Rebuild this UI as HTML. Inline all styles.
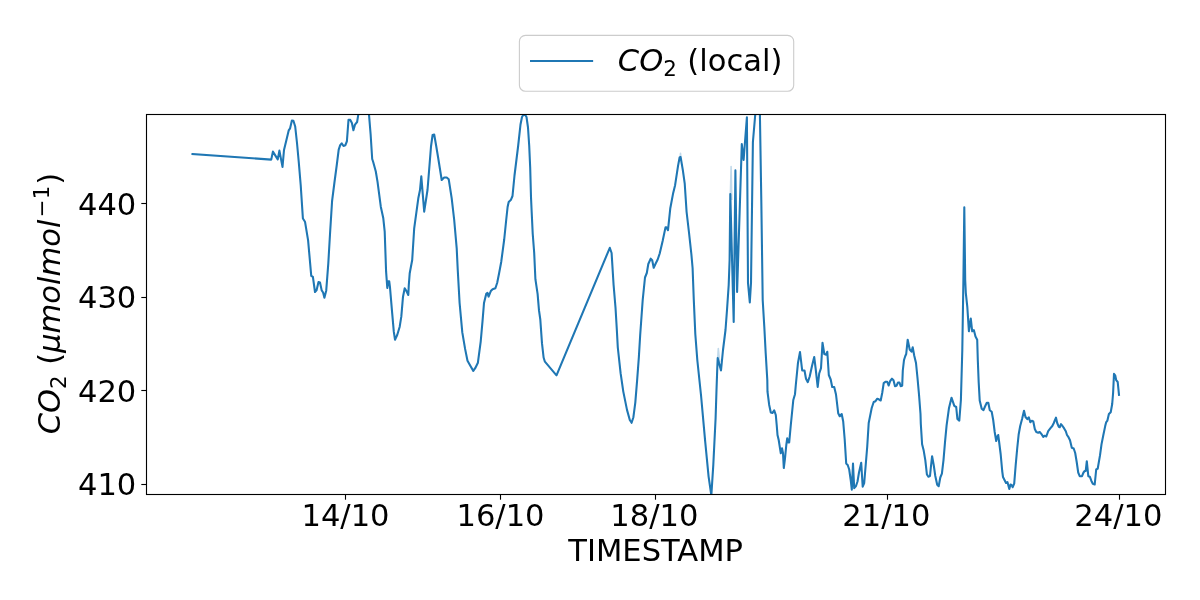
<!DOCTYPE html>
<html><head><meta charset="utf-8"><title>CO2 chart</title>
<style>
html,body{margin:0;padding:0;background:#fff;}
body{width:1200px;height:600px;overflow:hidden;}
svg{display:block;will-change:transform;}
text{font-family:"DejaVu Sans","Liberation Sans",sans-serif;font-size:30.56px;fill:#000;}
.it{font-style:italic;}
</style></head>
<body>
<svg width="1200" height="600" viewBox="0 0 1200 600">
<rect x="0" y="0" width="1200" height="600" fill="#fff"/>
<defs><clipPath id="ax"><rect x="146.5" y="114.5" width="1019.0" height="380.0"/></clipPath></defs>
<path d="M192.5 154 L271.25 159.6 L272.9 151.6 L277.75 159.4 L279.4 150.6 L282.5 166.9 L284 150 L286.3 140.5 L288.7 130.4 L290.1 128.3 L291.9 120.5 L293.4 120.8 L295.2 126.5 L297 143 L298.8 162.5 L300.7 185 L302.9 218.5 L305 221.7 L308.1 240.4 L311.25 275.8 L312.9 276.9 L315 292 L316.5 290.4 L318.5 282 L320 282.5 L321.7 290.4 L323.1 292.5 L324.4 297.7 L326.25 290.4 L328.3 263.3 L330 234.2 L332.1 200.8 L334.5 182 L336.7 165.5 L338.7 149.7 L340.2 145.2 L341.7 143.3 L343.5 146 L345.3 145.3 L346.9 141.25 L348.5 119.9 L350.3 119.9 L351.9 123 L353.4 130.3 L355 124.6 L357.1 122 L358.3 114.7 L360.8 100 L367.4 100 L369 114.7 L370.6 134 L372.2 159 L373.2 162 L375.8 171.5 L377.5 181.7 L380.8 206.7 L383.3 218.3 L384.7 231.7 L386.1 271.7 L387.3 288 L388.2 281.2 L389.2 281.2 L390 287.5 L392.2 313.3 L393.8 331.7 L395 339.7 L397.2 335 L399.7 326.7 L401.3 316.7 L403 296.7 L404.7 288.3 L406.3 290.8 L408.3 295 L408.8 285 L409.7 273.3 L412.2 260 L414.2 228.3 L418.3 198.3 L420 190 L421.3 176.3 L424.2 211.7 L427.5 190 L429 171.5 L431 146.5 L432.6 135 L434.2 134.5 L436.2 146 L438.2 158 L441.7 180 L444.2 177.5 L446.7 177.5 L448.7 179.2 L451.7 198.3 L454.2 220 L456.7 248.3 L457.75 270 L459.6 303 L462.3 332.4 L465.1 348.9 L467.5 360.8 L470.6 366.3 L473.3 370.9 L475.2 368.2 L477.9 362.7 L480.7 341.6 L482.5 321.4 L484 303 L486.2 293.9 L487.5 292.9 L488.6 296.6 L490.8 291.1 L492.6 289.3 L495.4 288.3 L497.2 282.8 L499 273.7 L501.2 262 L504.2 239.5 L506.2 220 L507.6 207 L508.7 202 L511 199.7 L512.5 196 L514.5 175.5 L518.2 145.5 L520.5 124.5 L522 117 L524.2 113.5 L526.5 117 L528 127.5 L529.2 145.5 L530.2 168 L531 197.2 L531.7 212.5 L532.7 233.5 L534.2 253 L535.4 279.2 L537.6 293.9 L539 310.4 L540.3 319.5 L542 343.4 L543.6 357.5 L544.9 361.7 L556.5 375.3 L609.8 247.8 L611.6 253 L613.6 285 L615.5 307.5 L616.8 329.2 L617.8 347.5 L620.6 373.2 L623.3 391.6 L627 409.9 L629.8 420 L631.6 422.8 L633.4 417.2 L635.3 402.6 L637.1 380.6 L638.9 356.7 L640.2 334.7 L642.7 300 L645 277.5 L646.8 273 L648.3 264 L650.7 258.7 L652.2 260.2 L653.7 267.7 L655.8 263.2 L657.7 259.5 L659.7 253.5 L662.7 240.8 L665.5 227.4 L666.5 227.4 L668 230.2 L670.3 208.2 L673.2 192.9 L675.1 185.2 L678 166.1 L679.6 157.5 L680.6 157 L682.8 169.9 L684.7 183.3 L686.6 212 L689.1 233.5 L691.4 254.5 L692.6 268 L693.8 300 L695.3 334 L697.3 360 L701 395 L705.2 441.6 L708.6 476.6 L711 493 L711.3 496 L713.3 464.9 L715.6 418.3 L716.5 390 L717.2 370 L717.7 358 L721 370.5 L723 350 L724.5 338 L725.5 330 L727 310 L728.7 285 L729.6 260 L730.3 194 L733.7 322 L735.4 170.4 L737.1 292 L741.8 144 L743.6 160 L746.9 117.3 L748 283 L749.8 302.5 L751 283 L752.9 142 L755.3 114 L756.5 100 L759.7 100 L759.9 114 L761.3 200 L762.7 300 L764.3 326.7 L765.7 353.3 L767.3 380 L767.5 391.7 L769.2 405 L770.8 412.5 L772.5 413 L774.2 410.3 L775.8 415 L776.7 425 L777.5 435 L778.7 440 L780 448.3 L780.8 453.3 L782 448.3 L783 453.3 L783.8 468 L785 458.3 L786.3 445 L787.2 438.3 L788.3 442.5 L789.2 442.5 L790.8 425 L793.3 400 L795 394.2 L795.8 385 L798 362.7 L800 352 L802.2 370.5 L804.5 370.5 L806 378.7 L807.8 382.2 L809.7 376.5 L812 366 L814.2 357 L815.7 369 L817.7 387 L819.2 373.5 L821 368.2 L822.5 342.7 L824.3 354 L826.2 354.7 L827.3 351.7 L828.8 375 L830.7 379.5 L832.2 387 L834.2 387 L836 394.5 L838.2 413.2 L839.7 416.2 L841.7 414 L843.2 421.5 L844.7 439.5 L846.2 463.5 L847.7 465 L849.2 469.5 L850.7 480 L851.8 489.7 L853 463.5 L854.2 488.2 L856 486 L857.5 481.5 L859 472.5 L861.2 462.7 L862.7 486.7 L864.2 483 L865.7 465 L867.2 447 L868.7 423 L870.5 414 L871.7 408 L873.7 402 L875.5 401.2 L877.3 398.7 L878.8 399.3 L880.7 400.5 L882.2 393 L883.7 383.2 L885.7 381.7 L887.2 381.7 L888.7 385.5 L890.2 381 L892 378.7 L893.5 380.2 L895 386.2 L896.5 385.8 L898 382.5 L899.5 382.5 L900.7 386.2 L902.2 385.8 L902.8 370.5 L904 360 L905.2 356.2 L906.2 354 L907.7 339.7 L909.7 349.5 L911.5 351.7 L912.7 347.2 L914.2 355.5 L916 363 L917.5 378 L919 394.5 L920.5 414 L920.8 423.7 L922.1 444.3 L923.7 450.6 L925.3 460.1 L926.9 474.4 L928.4 476.7 L930 476 L930.8 468 L932.1 456.2 L933.7 464.9 L935.3 476 L937.2 484.7 L938.7 486.2 L940.3 477.5 L941.9 473.6 L943.5 460.1 L945.1 441.1 L946.6 425.3 L949 407.9 L951.5 397.7 L954.3 405.9 L956.2 407 L957.4 419 L959.3 420.6 L960.9 400 L962.3 350 L963.4 280 L964.3 207.3 L965.2 280 L965.8 292.8 L967.3 306.8 L968.9 331.3 L970.8 318.5 L972.2 331.3 L973.9 330.2 L975.5 336.5 L977.2 339.7 L977.8 360 L978.7 382.5 L979.7 400.5 L981.7 408.7 L983.5 410.2 L985 406.5 L986.8 402.7 L988.3 402.7 L989.8 410.2 L991.7 411.7 L993.2 420 L994.7 432 L996.2 441 L997.3 436.5 L998.2 435 L999.2 442.5 L1000.7 454.5 L1002.2 471 L1003 477 L1004.5 480 L1006 483 L1007.5 482.2 L1009.3 489 L1010.5 484.5 L1011.7 485.2 L1012.7 487.2 L1014.2 483.7 L1015.7 465 L1017.2 448.5 L1018.7 434.2 L1020.2 426 L1022.2 418.5 L1024 410.7 L1025.5 417 L1027.3 419.2 L1028.8 417.3 L1030.3 422.2 L1031.8 420.7 L1033.3 421.5 L1034.8 429 L1036.3 432 L1038.2 432.7 L1039.7 432 L1041.5 434.2 L1043.3 436.8 L1044.8 435.7 L1046.3 436.5 L1048.2 431.2 L1050.5 428.2 L1052.3 426 L1053.8 423 L1055 420 L1056 417.7 L1057.2 423 L1058.7 426.7 L1059.8 427.2 L1061 424.2 L1062.5 426 L1064 428.2 L1065.8 431.2 L1067 435 L1068.5 437.2 L1070 440.2 L1071.8 447.7 L1073.7 448.5 L1075.2 453 L1076.7 462 L1078.2 472.5 L1079.7 476.2 L1082 476.2 L1083.5 472.5 L1084.7 471 L1085.7 471 L1086.8 461.2 L1088.3 476.2 L1089.8 476.7 L1091.3 480.7 L1092.8 483.7 L1094.7 484.5 L1096.2 469.5 L1097.7 468.7 L1100 455.4 L1101.5 444.4 L1103.3 435.2 L1105.2 426.1 L1106.1 422.4 L1107.4 420.6 L1108.9 414.1 L1110.7 412.3 L1112.2 404 L1113.1 393 L1114 373.8 L1115.3 375.6 L1116.2 380.2 L1117.7 382 L1119 394.9" fill="none" stroke="#1f77b4" stroke-width="2.08" stroke-linejoin="round" stroke-linecap="square" clip-path="url(#ax)"/>
<path d="M730.4 194 L731.1 166.5 L731.8 200 M717.7 358 L718.3 348.5 L719.6 362 M680.1 157 L680.5 153.3 L680.9 157" fill="none" stroke="#1f77b4" stroke-opacity="0.28" stroke-width="1.6" stroke-linejoin="round"/>
<rect x="146.5" y="114.5" width="1019.0" height="380.0" fill="none" stroke="#000" stroke-width="1.11" stroke-linejoin="miter"/>
<g stroke="#000" stroke-width="1.11">
<line x1="141.30" y1="203.5" x2="146.5" y2="203.5"/>
<line x1="141.30" y1="297.5" x2="146.5" y2="297.5"/>
<line x1="141.30" y1="390.5" x2="146.5" y2="390.5"/>
<line x1="141.30" y1="484.5" x2="146.5" y2="484.5"/>
<line x1="345.5" y1="494.5" x2="345.5" y2="499.70"/>
<line x1="500.5" y1="494.5" x2="500.5" y2="499.70"/>
<line x1="655.5" y1="494.5" x2="655.5" y2="499.70"/>
<line x1="887.5" y1="494.5" x2="887.5" y2="499.70"/>
<line x1="1119.5" y1="494.5" x2="1119.5" y2="499.70"/>
</g>
<text x="136.3" y="214.6" text-anchor="end">440</text>
<text x="136.3" y="307.5" text-anchor="end">430</text>
<text x="136.3" y="401.6" text-anchor="end">420</text>
<text x="136.3" y="494.5" text-anchor="end">410</text>
<text x="345.5" y="526.4" text-anchor="middle">14/10</text>
<text x="500.5" y="526.4" text-anchor="middle">16/10</text>
<text x="654.3" y="526.4" text-anchor="middle">18/10</text>
<text x="886.3" y="526.4" text-anchor="middle">21/10</text>
<text x="1118.3" y="526.4" text-anchor="middle">24/10</text>
<text x="655.7" y="560.9" text-anchor="middle">TIMESTAMP</text>
<text transform="translate(60 434.3) rotate(-90)"><tspan x="0.00" y="0.00" class="it">C</tspan><tspan x="21.34" y="0.00" class="it">O</tspan><tspan x="45.39" y="5.63" font-size="21.39">2</tspan><tspan x="69.54" y="0.00">(</tspan><tspan x="81.46" y="0.00" class="it">μ</tspan><tspan x="100.90" y="0.00" class="it">m</tspan><tspan x="130.67" y="0.00" class="it">o</tspan><tspan x="149.36" y="0.00" class="it">l</tspan><tspan x="157.85" y="0.00" class="it">m</tspan><tspan x="187.62" y="0.00" class="it">o</tspan><tspan x="206.31" y="0.00" class="it">l</tspan><tspan x="217.08" y="-10.62" font-size="21.39">−</tspan><tspan x="235.00" y="-10.62" font-size="21.39">1</tspan><tspan x="249.44" y="0.00">)</tspan></text>
<rect x="519.4" y="35.4" width="274.3" height="55.9" rx="6.1" ry="6.1" fill="#fff" fill-opacity="0.8" stroke="#ccc" stroke-width="1.11"/>
<line x1="531.04" y1="61" x2="592.1" y2="61" stroke="#1f77b4" stroke-width="2.08" stroke-linecap="square"/>
<text transform="translate(617.8 70.8)"><tspan x="0.00" y="0.00" class="it">C</tspan><tspan x="21.34" y="0.00" class="it">O</tspan><tspan x="45.39" y="5.01" font-size="21.39">2</tspan><tspan x="69.54" y="0.00">(</tspan><tspan x="81.46" y="0.00">l</tspan><tspan x="89.95" y="0.00">o</tspan><tspan x="108.65" y="0.00">c</tspan><tspan x="125.45" y="0.00">a</tspan><tspan x="144.17" y="0.00">l</tspan><tspan x="152.66" y="0.00">)</tspan></text>
</svg>
</body></html>
